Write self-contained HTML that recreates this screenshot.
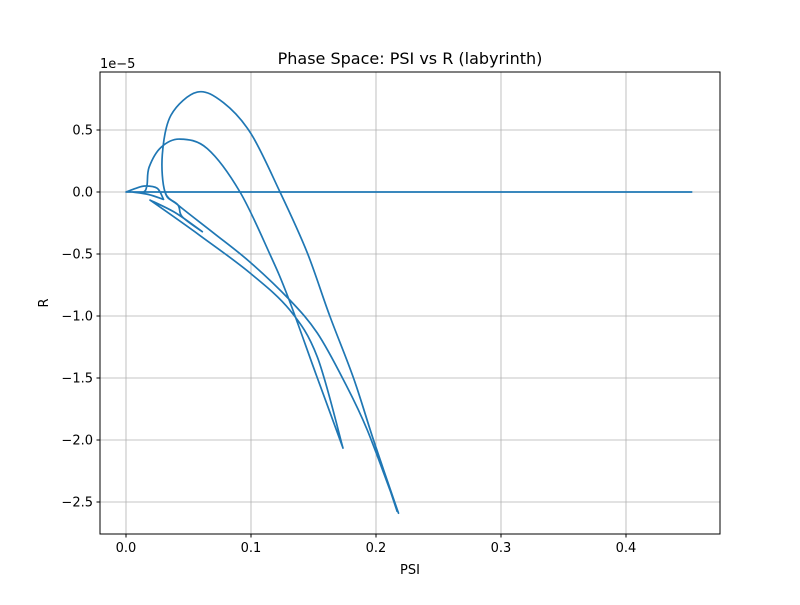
<!DOCTYPE html>
<html><head><meta charset="utf-8"><style>
body{margin:0;background:#fff}
svg text{font-family:"DejaVu Sans","Liberation Sans",sans-serif;fill:#000}
</style></head><body>
<svg id="chart" width="800" height="600" xmlns="http://www.w3.org/2000/svg">
<rect width="800" height="600" fill="#fff"/>
<g id="grid"></g>
<g id="plot"></g>
<rect x="100" y="72" width="620" height="462" fill="none" stroke="#000" stroke-width="1"/>
<g id="ticks"></g>
<text x="410" y="64" font-size="16" text-anchor="middle">Phase Space: PSI vs R (labyrinth)</text>
<text x="410" y="574" font-size="13" text-anchor="middle">PSI</text>
<text x="48" y="303" font-size="13" text-anchor="middle" transform="rotate(-90 48 303)">R</text>
<text x="100" y="68" font-size="13">1e−5</text>
</svg>
<script>
const xTicks=[0.0,0.1,0.2,0.3,0.4];
const xTickLabels=["0.0","0.1","0.2","0.3","0.4"];
const yTicks=[0.5,0.0,-0.5,-1.0,-1.5,-2.0,-2.5];
const yTickLabels=["0.5","0.0","−0.5","−1.0","−1.5","−2.0","−2.5"];
const psi=[0.453,0.2,0,0.008,0.0152,0.025,0.03,0.018,0.005,0.014,
0.0168,0.0185,0.028,0.0432,0.065,0.0912,0.115,0.1296,0.1528,0.1736,
0.153,0.131,0.0992,0.059,0.0192,
0.04,0.061,0.045,0.0416,
0.0312,0.029,0.036,0.057,0.078,0.1,0.1232,0.145,0.163,0.182,0.198,0.218,
0.193,0.174,0.153,0.131,0.0992,0.07,0.0416,
0.0312,0.029,0.036,0.057,0.078,0.1,0.1232,0.145,0.163,0.182,0.198,0.217];
const rVal=[0,0,0,0.03,0.048,0.03,-0.06,-0.02,0,0,
0.056,0.2,0.36,0.427,0.35,0,-0.5,-0.847,-1.492,-2.065,
-1.33,-0.952,-0.653,-0.35,-0.065,
-0.17,-0.32,-0.2,-0.105,
0,0.3,0.62,0.806,0.72,0.47,0,-0.49,-1.0,-1.5,-2.0,-2.59,
-1.92,-1.516,-1.137,-0.871,-0.565,-0.33,-0.105,
0,0.3,0.62,0.806,0.72,0.47,0,-0.49,-1.0,-1.5,-2.0,-2.58];
const cusps=[0,2,6,8,19,24,26,40];
const X=v=>126+v*1250, Y=v=>192-v*124;
const NS="http://www.w3.org/2000/svg";
const grid=document.getElementById('grid'),ticks=document.getElementById('ticks'),plot=document.getElementById('plot');
function mk(tag,attrs,parent){const e=document.createElementNS(NS,tag);for(const k in attrs)e.setAttribute(k,attrs[k]);parent.appendChild(e);return e;}
xTicks.forEach((t,i)=>{const x=X(t);
 const g=mk('line',{x1:x,x2:x,y1:72,y2:534,stroke:'#b0b0b0','stroke-width':0.8},grid);
 
 const tk=mk('line',{x1:x,x2:x,y1:534,y2:537.5,stroke:'#000'},ticks);
 
 const tx=mk('text',{x:x,y:552,'font-size':13,'text-anchor':'middle'},ticks);tx.textContent=xTickLabels[i];
 });
yTicks.forEach((t,i)=>{const y=Y(t);
 const g=mk('line',{x1:100,x2:720,y1:y,y2:y,stroke:'#b0b0b0','stroke-width':0.8},grid);
 
 const tk=mk('line',{x1:96.5,x2:100,y1:y,y2:y,stroke:'#000'},ticks);
 
 const tx=mk('text',{x:93,y:y+4.5,'font-size':13,'text-anchor':'end'},ticks);tx.textContent=yTickLabels[i];
 });
const P=psi.map((p,i)=>[X(p),Y(rVal[i])]);
const n=P.length;
const isC=i=>cusps.includes(i)||i===0||i===n-1;
let d='M'+P[0][0].toFixed(1)+','+P[0][1].toFixed(1);
for(let i=0;i<n-1;i++){
 const p1=P[i],p2=P[i+1];
 const p0=isC(i)?p1:P[i-1];
 const p3=isC(i+1)?p2:P[i+2];
 const c1=[p1[0]+(p2[0]-p0[0])/6,p1[1]+(p2[1]-p0[1])/6];
 const c2=[p2[0]-(p3[0]-p1[0])/6,p2[1]-(p3[1]-p1[1])/6];
 d+='C'+c1.map(v=>v.toFixed(1)).join(',')+' '+c2.map(v=>v.toFixed(1)).join(',')+' '+p2.map(v=>v.toFixed(1)).join(',');
}
const path=mk('path',{d:d,fill:'none',stroke:'#1f77b4','stroke-width':1.7,'stroke-linejoin':'round'},plot);


</script>
</body></html>
